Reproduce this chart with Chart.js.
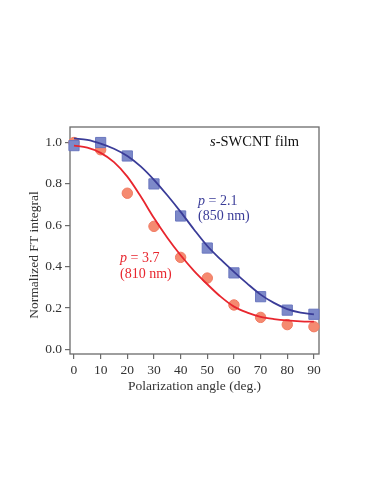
<!DOCTYPE html>
<html>
<head>
<meta charset="utf-8">
<script src="https://cdn.jsdelivr.net/npm/chart.js@4"></script>
<style>
html,body{margin:0;padding:0;background:#fff;}
#wrap{position:relative;width:382px;height:494px;}
</style>
</head>
<body>
<div id="wrap"><canvas id="c" width="382" height="494"></canvas></div>
<script>
// ---- data ----
const angles = [0, 10, 20, 30, 40, 50, 60, 70, 80, 90];
const blue850 = [0.985, 1.0, 0.935, 0.80, 0.645, 0.49, 0.37, 0.255, 0.19, 0.17];
const red810 = [1.0, 0.965, 0.755, 0.595, 0.445, 0.345, 0.215, 0.155, 0.12, 0.11];
const fitAngles = [0, 5, 10, 15, 20, 25, 30, 35, 40, 45, 50, 55, 60, 65, 70, 75, 80, 85, 90];
const blueFit = [1.02, 1.013, 0.995, 0.97, 0.935, 0.885, 0.82, 0.745, 0.665, 0.58, 0.50, 0.435, 0.375, 0.318, 0.265, 0.225, 0.195, 0.178, 0.17];
const redFit = [0.985, 0.975, 0.95, 0.905, 0.835, 0.74, 0.635, 0.54, 0.455, 0.38, 0.315, 0.255, 0.207, 0.178, 0.158, 0.147, 0.14, 0.136, 0.134];
const xTicks = [0, 10, 20, 30, 40, 50, 60, 70, 80, 90];
const yTicks = [0.0, 0.2, 0.4, 0.6, 0.8, 1.0];
const xTitle = 'Polarization angle (deg.)';
const yTitle = 'Normalized FT integral';

const pts = (xs, ys) => xs.map((x, i) => ({x: x, y: ys[i]}));

const FONT = '"Liberation Serif", "Times New Roman", serif';
const BLUE = '#3a3c98';
const RED = '#e8262e';

const decor = {
  id: 'decor',
  beforeDatasetsDraw(chart) {
    const ctx = chart.ctx;
    const a = chart.chartArea;
    ctx.save();
    ctx.strokeStyle = '#6b6b6b';
    ctx.lineWidth = 1.3;
    ctx.strokeRect(a.left, a.top, a.right - a.left, a.bottom - a.top);
    ctx.restore();
  },
  afterDraw(chart) {
    const ctx = chart.ctx;
    const a = chart.chartArea;
    ctx.save();
    ctx.textBaseline = 'middle';
    // axis titles
    ctx.fillStyle = '#333';
    ctx.font = '13.5px ' + FONT;
    ctx.textAlign = 'center';
    ctx.fillText(xTitle, (a.left + a.right) / 2, 386);
    ctx.save();
    ctx.translate(34, 255);
    ctx.rotate(-Math.PI / 2);
    ctx.fillText(yTitle, 0, 0);
    ctx.restore();
    // mixed-style labels
    function mixed(parts, x, y, color) {
      ctx.fillStyle = color;
      ctx.textAlign = 'left';
      let cx = x;
      parts.forEach(p => {
        ctx.font = (p.it ? 'italic ' : '') + p.size + 'px ' + FONT;
        ctx.fillText(p.t, cx, y);
        cx += ctx.measureText(p.t).width;
      });
    }
    mixed([{t: 's', it: true, size: 14.5}, {t: '-SWCNT film', size: 14.5}], 210, 142, '#111');
    mixed([{t: 'p', it: true, size: 14}, {t: ' = 2.1', size: 14}], 198, 201, BLUE);
    mixed([{t: '(850 nm)', size: 14}], 198, 216, BLUE);
    mixed([{t: 'p', it: true, size: 14}, {t: ' = 3.7', size: 14}], 120, 258, RED);
    mixed([{t: '(810 nm)', size: 14}], 120, 274, RED);
    ctx.restore();
  }
};

new Chart(document.getElementById('c'), {
  type: 'scatter',
  data: {
    datasets: [
      {type: 'line', data: pts(fitAngles, blueFit), borderColor: BLUE, borderWidth: 1.8, pointRadius: 0, cubicInterpolationMode: 'monotone', fill: false, clip: false},
      {type: 'line', data: pts(fitAngles, redFit), borderColor: RED, borderWidth: 1.8, pointRadius: 0, cubicInterpolationMode: 'monotone', fill: false, clip: false},
      {data: pts(angles, blue850), pointStyle: 'rect', pointRadius: 7.2, backgroundColor: '#7d89c9', borderColor: '#6a77bf', borderWidth: 1, clip: false},
      {data: pts(angles, red810), pointStyle: 'circle', pointRadius: 5.2, backgroundColor: '#f58a70', borderColor: '#f07a62', borderWidth: 1, clip: false}
    ]
  },
  options: {
    responsive: false,
    animation: false,
    events: [],
    layout: {padding: {top: 127, right: 63, left: 0, bottom: 0}},
    plugins: {legend: {display: false}, tooltip: {enabled: false}},
    scales: {
      x: {
        type: 'linear', min: -1.5, max: 91.9,
        afterFit(s) { s.height = 140; },
        afterBuildTicks(s) { s.ticks = xTicks.map(v => ({value: v})); },
        border: {display: false},
        grid: {drawOnChartArea: false, drawTicks: true, tickLength: 5, color: '#6b6b6b', lineWidth: 1.2},
        ticks: {padding: 3, color: '#333', font: {family: FONT, size: 13.5}, maxRotation: 0, callback: v => String(v)}
      },
      y: {
        type: 'linear', min: -0.022, max: 1.075,
        afterFit(s) { s.width = 70; },
        afterBuildTicks(s) { s.ticks = yTicks.map(v => ({value: v})); },
        border: {display: false},
        grid: {drawOnChartArea: false, drawTicks: true, tickLength: 5, color: '#6b6b6b', lineWidth: 1.2},
        ticks: {padding: 3, color: '#333', font: {family: FONT, size: 13.5}, callback: v => Number(v).toFixed(1)}
      }
    }
  },
  plugins: [decor]
});
</script>
</body>
</html>
